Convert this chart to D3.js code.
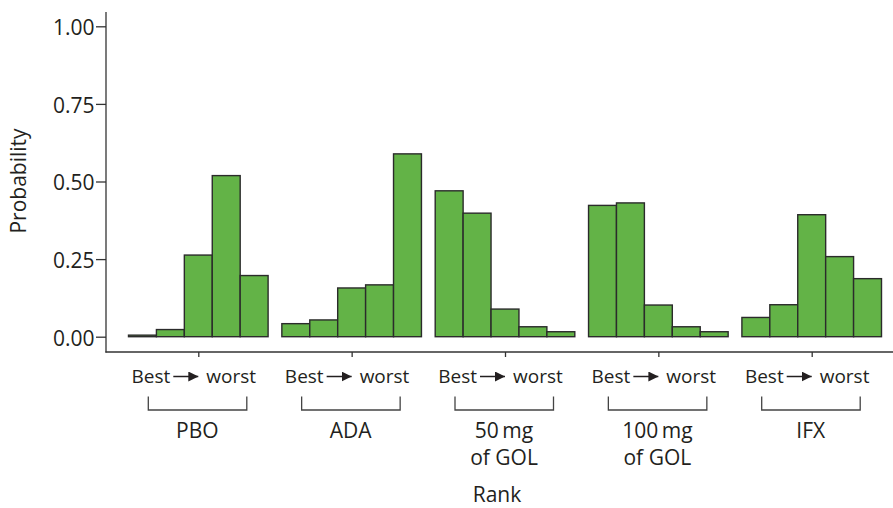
<!DOCTYPE html>
<html><head><meta charset="utf-8">
<script src="https://cdn.jsdelivr.net/npm/d3@7"></script>
<style>body{margin:0;background:#fff}svg{display:block}text{font-family:"Open Sans","Noto Sans",sans-serif;fill:#231f20}</style>
</head><body>
<svg id="c" width="893" height="508"></svg>
<script>
const groups = ["PBO","ADA","50 mg of GOL","100 mg of GOL","IFX"];
const groupLabels = [["PBO"],["ADA"],["50\u2009mg","of GOL"],["100\u2009mg","of GOL"],["IFX"]];
const ranks = [1,2,3,4,5];
const valsPBO = [0.005,0.023,0.263,0.519,0.197];
const valsADA = [0.042,0.054,0.157,0.167,0.589];
const valsGOL50 = [0.470,0.398,0.089,0.032,0.016];
const valsGOL100 = [0.423,0.431,0.102,0.032,0.016];
const valsIFX = [0.062,0.103,0.393,0.258,0.187];
const yTicks = [0,0.25,0.5,0.75,1];
const allVals = [valsPBO,valsADA,valsGOL50,valsGOL100,valsIFX];

const svg = d3.select("#c");
const axisColor = "#333";
const y = d3.scaleLinear().domain([0,1]).range([336.7,26.3]);
const xg = d3.scalePoint().domain(groups).range([198.3,811.7]);
const xr = d3.scaleBand().domain(ranks).range([-69.8,69.8]).padding(0);

// bars
groups.forEach((g,i)=>{
  const gg = svg.append("g").attr("transform",`translate(${xg(g)},0)`);
  gg.selectAll("rect").data(allVals[i]).join("rect")
    .attr("x",(d,j)=>xr(ranks[j]))
    .attr("width",xr.bandwidth())
    .attr("y",d=>y(d))
    .attr("height",d=>y(0)-y(d))
    .attr("fill","#63b347")
    .attr("stroke","#2b2b2b")
    .attr("stroke-width",1.4);
});

// y axis
const yAxis = svg.append("g").attr("transform","translate(106,0)")
  .call(d3.axisLeft(y).tickValues(yTicks).tickFormat(d3.format(".2f")).tickSize(10).tickPadding(1.5));
yAxis.select(".domain").remove();
yAxis.selectAll("line").attr("stroke",axisColor).attr("stroke-width",1.3);
yAxis.selectAll("text").style("font-size","21px").attr("fill","#231f20").attr("dy","0.4em");
svg.append("line").attr("x1",106).attr("x2",106).attr("y1",12).attr("y2",352.5).attr("stroke",axisColor).attr("stroke-width",1.3);

// x axis
const xAxis = svg.append("g").attr("transform","translate(0,352)")
  .call(d3.axisBottom(xg).tickSize(5).tickFormat(""));
xAxis.select(".domain").remove();
xAxis.selectAll("line").attr("stroke",axisColor).attr("stroke-width",1.3);
svg.append("line").attr("x1",105.4).attr("x2",893).attr("y1",352).attr("y2",352).attr("stroke",axisColor).attr("stroke-width",1.3);

// y title
svg.append("text").attr("transform","translate(26,181) rotate(-90)").attr("text-anchor","middle")
  .style("font-size","21px").text("Probability");

// arrow marker
svg.append("defs").append("marker").attr("id","ah").attr("viewBox","0 0 10 10")
  .attr("refX",10).attr("refY",5).attr("markerWidth",10).attr("markerHeight",10)
  .attr("markerUnits","userSpaceOnUse").attr("orient","auto")
  .append("path").attr("d","M0,0L10,5L0,10Z").attr("fill","#231f20");

groups.forEach((g,i)=>{
  const cx = xg(g);
  const lg = svg.append("g").attr("transform",`translate(${cx},0)`);
  lg.append("text").attr("x",-28).attr("y",383).attr("text-anchor","end").style("font-size","19px").text("Best");
  lg.append("line").attr("x1",-25).attr("x2",0).attr("y1",376.5).attr("y2",376.5)
    .attr("stroke","#231f20").attr("stroke-width",1.5).attr("marker-end","url(#ah)");
  lg.append("text").attr("x",8).attr("y",383).attr("text-anchor","start").style("font-size","19px").text("worst");
  lg.append("path").attr("d","M-50,396.5V410H48.5V396.5").attr("fill","none").attr("stroke","#444").attr("stroke-width",1.3);
  groupLabels[i].forEach((t,k)=>{
    lg.append("text").attr("x",-1).attr("y",438+k*27).attr("text-anchor","middle").style("font-size","21px").text(t);
  });
});

svg.append("text").attr("x",497).attr("y",502).attr("text-anchor","middle").style("font-size","21px").text("Rank");
</script>
</body></html>
